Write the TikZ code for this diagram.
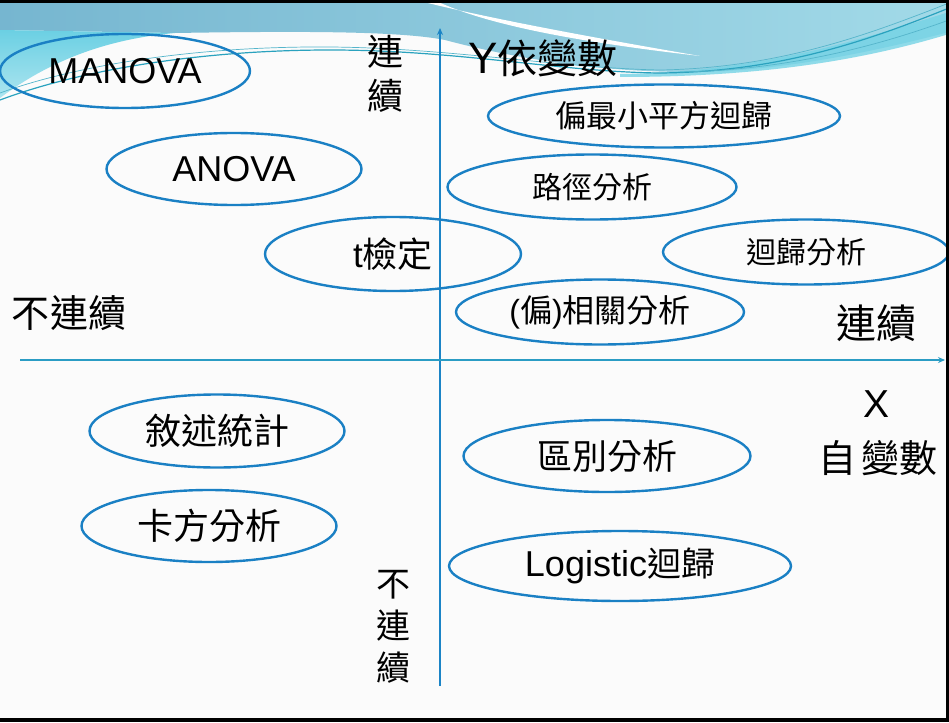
\documentclass[tikz,border=0pt]{standalone}
\usepackage{fontspec}
\setmainfont{Liberation Sans}
\newfontfamily\cjk{Noto Sans CJK TC}
\usetikzlibrary{shapes.geometric,arrows.meta}

\definecolor{ovalblue}{HTML}{1A80C4}
\definecolor{axisblue}{HTML}{1B84C6}
\definecolor{axisteal}{HTML}{2A9CC4}
\definecolor{waveL}{HTML}{76B6D0}
\definecolor{waveM}{HTML}{84C4DA}
\definecolor{waveR}{HTML}{A2DAE8}
\definecolor{waveCyan}{HTML}{46C4DC}
\definecolor{waveLine}{HTML}{2AA2BE}
\definecolor{paper}{HTML}{FBFBFB}

\newcommand{\fs}[1]{\fontsize{#1}{#1}\selectfont}

\tikzset{
  oval/.style={ellipse, draw=ovalblue, line width=2.4pt, inner sep=0pt},
  axisline/.style={line width=2pt, -{Stealth[length=7pt,width=6pt]}},
  label/.style={inner sep=0pt, text=black},
  waveline/.style={draw=waveLine, line width=1.2pt},
  thinwave/.style={draw=waveLine!80, line width=0.7pt},
}

\begin{document}
\begin{tikzpicture}[x=1pt,y=-1pt]
\useasboundingbox (0,0) rectangle (949,722);
\fill[paper] (0,0) rectangle (949,722);

% ---- decorative wave band across the top ----
\shade[left color=waveL, middle color=waveM, right color=waveR]
  (0,0) -- (949,0) -- (949,32)
  .. controls (880,50) and (790,70) .. (700,72)
  .. controls (610,73) and (520,60) .. (445,40)
  .. controls (400,31) and (300,31) .. (175,33)
  -- (0,30) -- cycle;
\shade[top color=waveCyan!80, bottom color=waveCyan!45]
  (0,30) -- (175,33)
  .. controls (95,40) and (40,68) .. (0,98) -- cycle;
\fill[white]
  (416,0) .. controls (470,14) and (560,32) .. (700,56)
  .. controls (560,40) and (480,22) .. (434,0) -- cycle;
\fill[waveCyan!75, opacity=0.8]
  (620,74) .. controls (760,72) and (860,40) .. (949,12)
  -- (949,34) .. controls (870,58) and (770,77) .. (620,77) -- cycle;
\draw[waveline]
  (0,100) .. controls (80,70) and (200,50) .. (330,50)
  .. controls (460,50) and (560,72) .. (660,73)
  .. controls (780,72) and (870,40) .. (949,8);
\draw[thinwave]
  (0,93) .. controls (80,64) and (200,46) .. (330,47)
  .. controls (450,48) and (560,68) .. (660,70)
  .. controls (780,68) and (870,34) .. (949,3);
\draw[thinwave]
  (680,72) .. controls (790,70) and (880,45) .. (949,20);

% ---- axes ----
\coordinate (ybot) at (440,686);
\coordinate (ytop) at (440,28);
\coordinate (xleft) at (20,360);
\coordinate (xright) at (945,360);
\draw[axisline, draw=axisblue, fill=axisblue] (ybot) -- (ytop);
\draw[axisline, draw=axisteal, fill=axisteal] (xleft) -- (xright);

% ---- methods ----
\node[oval, minimum width=250pt, minimum height=74pt] (manova) at (125,71)
  {\fs{36}MANOVA};
\node[oval, minimum width=255pt, minimum height=72pt] (anova) at (234,169)
  {\fs{36}ANOVA};
\node[oval, minimum width=256pt, minimum height=74pt] (ttest) at (393,254)
  {\fs{35}t{\cjk 檢定}};
\node[oval, minimum width=352pt, minimum height=63pt] (pls) at (664,116)
  {\cjk\fs{31}偏最小平方迴歸};
\node[oval, minimum width=289pt, minimum height=65pt] (path) at (592,187)
  {\cjk\fs{30}路徑分析};
\node[oval, minimum width=286pt, minimum height=65pt] (regr) at (806,252)
  {\cjk\fs{30}迴歸分析};
\node[oval, minimum width=288pt, minimum height=65pt] (corr) at (600,312)
  {\fs{32}({\cjk 偏})\cjk 相關分析};
\node[oval, minimum width=255pt, minimum height=73pt] (desc) at (217,431)
  {\cjk\fs{36}敘述統計};
\node[oval, minimum width=255pt, minimum height=72pt] (chisq) at (209,526)
  {\cjk\fs{36}卡方分析};
\node[oval, minimum width=287pt, minimum height=72pt] (discr) at (607,456)
  {\cjk\fs{35}區別分析};
\node[oval, minimum width=342pt, minimum height=70pt] (logit) at (620,566)
  {\fs{36}Logistic{\cjk\fs{34}迴歸}};

% ---- axis labels ----
\node[label, align=center, font=\cjk\fontsize{36}{44}\selectfont] (ycont) at (385,74)
  {連\\續};
\node[label] (ylab) at (543,58) {\fs{44}Y{\cjk\fs{40}依變數}};
\node[label, font=\cjk\fs{38}] (xdisc) at (69,313) {不連續};
\node[label, font=\cjk\fs{40}] (xcont) at (876,323) {連續};
\node[label, font=\fs{39}] (xlab) at (876,404) {X};
\node[label, font=\cjk\fs{38}] (xname) at (878,458) {自\hspace{5pt}變數};
\node[label, align=center, font=\cjk\fontsize{34}{42}\selectfont] (ydisc) at (393,627)
  {不\\連\\續};

% ---- screen frame ----
\fill[black] (0,0) rectangle (949,3);
\fill[black] (946,0) rectangle (949,722);
\fill[black] (0,718) rectangle (949,722);
\end{tikzpicture}
\end{document}
